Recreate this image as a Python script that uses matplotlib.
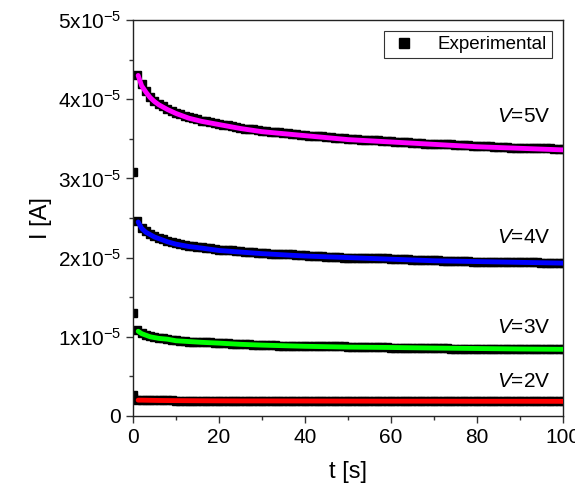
import matplotlib
matplotlib.use('Agg')
import matplotlib.pyplot as plt
from matplotlib.ticker import MultipleLocator, FuncFormatter
import numpy as np

plt.rcParams['font.family'] = ['Liberation Sans', 'DejaVu Sans']
plt.rcParams['mathtext.fontset'] = 'custom'
plt.rcParams['mathtext.rm'] = 'Liberation Sans'
plt.rcParams['mathtext.it'] = 'Liberation Sans:italic'

# measured current, one sample per second, in units of 1e-5 A
t_exp = np.arange(0, 101, 1.0)

i_5v = [3.08, 4.30, 4.19, 4.10, 4.03, 3.98, 3.94, 3.91, 3.88, 3.85,
        3.83, 3.81, 3.79, 3.78, 3.76, 3.75, 3.73, 3.72, 3.71, 3.70,
        3.69, 3.68, 3.67, 3.66, 3.65, 3.64, 3.63, 3.62, 3.62, 3.61,
        3.60, 3.60, 3.59, 3.58, 3.58, 3.57, 3.57, 3.56, 3.56, 3.55,
        3.55, 3.54, 3.54, 3.53, 3.53, 3.52, 3.52, 3.51, 3.51, 3.51,
        3.50, 3.50, 3.50, 3.49, 3.49, 3.48, 3.48, 3.48, 3.47, 3.47,
        3.47, 3.46, 3.46, 3.46, 3.46, 3.45, 3.45, 3.45, 3.44, 3.44,
        3.44, 3.44, 3.43, 3.43, 3.43, 3.42, 3.42, 3.42, 3.42, 3.41,
        3.41, 3.41, 3.41, 3.41, 3.40, 3.40, 3.40, 3.40, 3.39, 3.39,
        3.39, 3.39, 3.39, 3.38, 3.38, 3.38, 3.38, 3.38, 3.37, 3.37,
        3.37]

i_4v = [1.30, 2.46, 2.38, 2.33, 2.30, 2.27, 2.25, 2.23, 2.21, 2.20,
        2.18, 2.17, 2.16, 2.15, 2.15, 2.14, 2.13, 2.12, 2.12, 2.11,
        2.10, 2.10, 2.09, 2.09, 2.08, 2.08, 2.07, 2.07, 2.07, 2.06,
        2.06, 2.06, 2.05, 2.05, 2.04, 2.04, 2.04, 2.04, 2.03, 2.03,
        2.03, 2.02, 2.02, 2.02, 2.02, 2.01, 2.01, 2.01, 2.01, 2.00,
        2.00, 2.00, 2.00, 2.00, 1.99, 1.99, 1.99, 1.99, 1.99, 1.99,
        1.98, 1.98, 1.98, 1.98, 1.98, 1.97, 1.97, 1.97, 1.97, 1.97,
        1.97, 1.97, 1.96, 1.96, 1.96, 1.96, 1.96, 1.96, 1.96, 1.95,
        1.95, 1.95, 1.95, 1.95, 1.95, 1.95, 1.95, 1.94, 1.94, 1.94,
        1.94, 1.94, 1.94, 1.94, 1.94, 1.93, 1.93, 1.93, 1.93, 1.93,
        1.93]

i_3v = [0.26, 1.08, 1.05, 1.02, 1.01, 1.00, 0.99, 0.98, 0.97, 0.96,
        0.96, 0.95, 0.95, 0.94, 0.94, 0.94, 0.93, 0.93, 0.93, 0.92,
        0.92, 0.92, 0.92, 0.91, 0.91, 0.91, 0.91, 0.91, 0.90, 0.90,
        0.90, 0.90, 0.90, 0.90, 0.89, 0.89, 0.89, 0.89, 0.89, 0.89,
        0.89, 0.88, 0.88, 0.88, 0.88, 0.88, 0.88, 0.88, 0.88, 0.88,
        0.87, 0.87, 0.87, 0.87, 0.87, 0.87, 0.87, 0.87, 0.87, 0.87,
        0.86, 0.86, 0.86, 0.86, 0.86, 0.86, 0.86, 0.86, 0.86, 0.86,
        0.86, 0.86, 0.86, 0.86, 0.85, 0.85, 0.85, 0.85, 0.85, 0.85,
        0.85, 0.85, 0.85, 0.85, 0.85, 0.85, 0.85, 0.85, 0.85, 0.85,
        0.85, 0.84, 0.84, 0.84, 0.84, 0.84, 0.84, 0.84, 0.84, 0.84,
        0.84]

i_2v = [0.230, 0.206, 0.203, 0.201, 0.200, 0.199, 0.198, 0.197, 0.196, 0.196,
        0.195, 0.195, 0.194, 0.194, 0.194, 0.193, 0.193, 0.193, 0.193, 0.192,
        0.192, 0.192, 0.192, 0.192, 0.191, 0.191, 0.191, 0.191, 0.191, 0.191,
        0.191, 0.190, 0.190, 0.190, 0.190, 0.190, 0.190, 0.189, 0.189, 0.189,
        0.189, 0.189, 0.189, 0.189, 0.189, 0.188, 0.188, 0.188, 0.188, 0.188,
        0.188, 0.188, 0.188, 0.188, 0.188, 0.188, 0.188, 0.188, 0.187, 0.187,
        0.187, 0.187, 0.187, 0.187, 0.187, 0.187, 0.187, 0.187, 0.187, 0.187,
        0.187, 0.187, 0.187, 0.187, 0.187, 0.187, 0.186, 0.186, 0.186, 0.186,
        0.186, 0.186, 0.186, 0.186, 0.186, 0.186, 0.186, 0.186, 0.186, 0.186,
        0.186, 0.186, 0.186, 0.186, 0.186, 0.185, 0.185, 0.185, 0.185, 0.185,
        0.185]

# fitted curves, same units
t_fit = [1.2, 2, 3, 4, 5, 6, 8, 10, 13, 16, 20, 25, 30, 40, 50, 60, 70, 80, 90, 100]
fit_5v = [4.30, 4.17, 4.09, 4.02, 3.97, 3.93, 3.87, 3.82, 3.76, 3.72,
          3.68, 3.63, 3.59, 3.54, 3.49, 3.46, 3.43, 3.40, 3.38, 3.36]
fit_4v = [2.45, 2.37, 2.32, 2.29, 2.26, 2.24, 2.20, 2.17, 2.14, 2.12,
          2.09, 2.07, 2.05, 2.02, 2.00, 1.98, 1.96, 1.95, 1.94, 1.93]
fit_3v = [1.07, 1.04, 1.02, 1.00, 0.99, 0.98, 0.97, 0.95, 0.94, 0.93,
          0.92, 0.905, 0.895, 0.88, 0.87, 0.865, 0.858, 0.852, 0.846, 0.842]
fit_2v = [0.200, 0.200, 0.199, 0.198, 0.197, 0.196, 0.195, 0.194, 0.193, 0.192,
          0.191, 0.190, 0.190, 0.189, 0.188, 0.187, 0.187, 0.186, 0.186, 0.185]

voltages = ['5', '4', '3', '2']
colors = ['#ff00ff', '#0000ff', '#00ff00', '#ff0000']
label_y = [3.78, 2.25, 1.12, 0.43]

fig = plt.figure(figsize=(5.75, 4.93), dpi=100)
ax = fig.add_axes([0.2313, 0.1562, 0.7478, 0.8032])

scale = 1e-5
series = [(i_5v, fit_5v), (i_4v, fit_4v), (i_3v, fit_3v), (i_2v, fit_2v)]
for k, (exp_vals, fit_vals) in enumerate(series):
    ax.plot(t_exp, np.array(exp_vals) * scale, 's', color='black', ms=5.5,
            mec='black', snap=False,
            label='Experimental' if k == 0 else None, zorder=2)
    ax.plot(t_fit, np.array(fit_vals) * scale, '-', color=colors[k], lw=3.5,
            solid_capstyle='round', zorder=3)
    ax.text(97, label_y[k] * scale, '$V$=' + voltages[k] + 'V', ha='right',
            va='center', fontsize=15)

ax.set_xlim(0, 100)
ax.set_ylim(0, 5e-5)
ax.xaxis.set_major_locator(MultipleLocator(20))
ax.xaxis.set_minor_locator(MultipleLocator(10))
ax.yaxis.set_major_locator(MultipleLocator(1e-5))
ax.yaxis.set_minor_locator(MultipleLocator(0.5e-5))


def sci_label(v, pos):
    n = int(round(v / 1e-5))
    if n == 0:
        return '0'
    return '%dx10$^{-5}$' % n


ax.yaxis.set_major_formatter(FuncFormatter(sci_label))
ax.tick_params(which='both', direction='out', top=False, right=False,
               labelsize=15, width=1.0, color='#333333')
ax.tick_params(which='major', length=5)
ax.tick_params(which='minor', length=3)
for s in ax.spines.values():
    s.set_linewidth(1.0)
    s.set_color('#222222')

ax.set_xlabel('t [s]', fontsize=17, labelpad=10)
ax.set_ylabel('I [A]', fontsize=17, labelpad=4)

leg = ax.legend(loc='upper right', fontsize=13.5, frameon=True, fancybox=False,
                edgecolor='black', handlelength=1.6, borderpad=0.25,
                handletextpad=1.0, borderaxespad=0.6, markerscale=1.3)
leg.get_frame().set_linewidth(0.8)

fig.patch.set_facecolor('white')
fig.savefig('out.png', dpi=100)
